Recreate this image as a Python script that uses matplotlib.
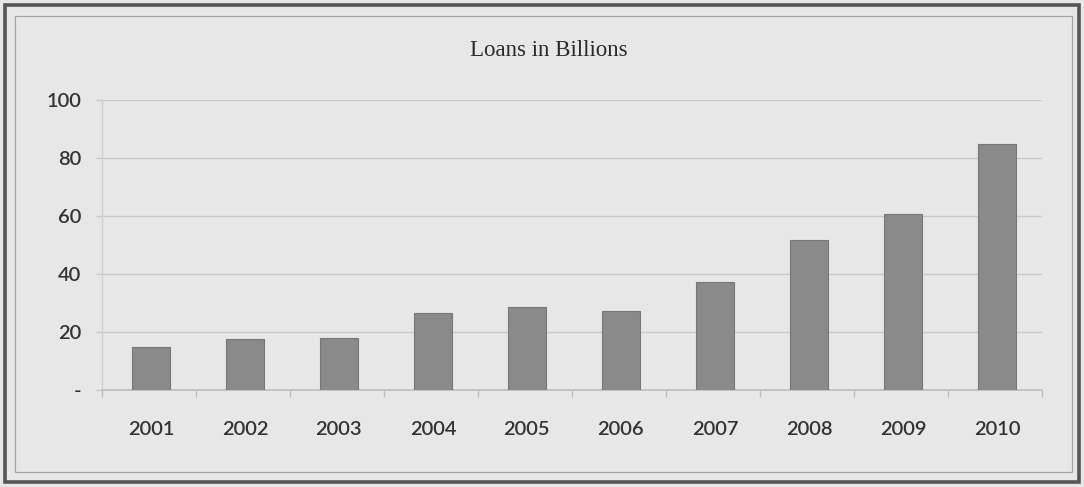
import matplotlib
matplotlib.use("Agg")
import matplotlib.pyplot as plt
from matplotlib.patches import Rectangle
from matplotlib.ticker import FixedLocator, FuncFormatter

# Loans outstanding per year, in billions
years = ["2001", "2002", "2003", "2004", "2005", "2006", "2007", "2008", "2009", "2010"]
loans = [14.7, 17.6, 17.9, 26.6, 28.5, 27.3, 37.1, 51.7, 60.8, 84.9]
y_ticks = [0, 20, 40, 60, 80, 100]

W, H = 1084, 487
DPI = 100
bg = "#e7e7e7"
bar_color = "#8a8a8a"
grid_color = "#c9c9c9"
text_color = "#333333"

fig = plt.figure(figsize=(W / DPI, H / DPI), dpi=DPI, facecolor=bg)

# Frame around the chart area
fig.patches.append(Rectangle((5 / W, 5 / H), (W - 10) / W, (H - 10) / H,
                             transform=fig.transFigure, fill=False,
                             edgecolor="#555555", linewidth=2.6, zorder=0))
fig.patches.append(Rectangle((15 / W, 15 / H), (W - 27) / W, (H - 31) / H,
                             transform=fig.transFigure, fill=False,
                             edgecolor="#a3a3a3", linewidth=0.9, zorder=0))

ax = fig.add_axes([102 / W, (H - 390) / H, (1042 - 102) / W, (390 - 100) / H])
ax.set_facecolor(bg)

x = list(range(len(years)))
ax.bar([i + 0.02 for i in x], loans, width=0.41, color=bar_color,
       edgecolor="#777777", linewidth=0.8, zorder=3)

ax.set_xlim(-0.5, len(years) - 0.5)
ax.set_ylim(0, 100)

# Horizontal gridlines
ax.set_yticks(y_ticks)
ax.yaxis.set_major_formatter(FuncFormatter(lambda v, p: "-" if v == 0 else f"{int(v)}"))
ax.grid(axis="y", color=grid_color, linewidth=1.0, zorder=0)
ax.tick_params(axis="y", length=4, width=1.0, color=grid_color, pad=11,
               labelsize=14.5, labelcolor=text_color)

# Category labels centred, tick marks on category boundaries
ax.set_xticks([i + 0.02 for i in x])
ax.set_xticklabels(years)
ax.tick_params(axis="x", which="major", length=0, pad=22,
               labelsize=14.5, labelcolor=text_color)
ax.xaxis.set_minor_locator(FixedLocator([i - 0.5 for i in range(len(years) + 1)]))
ax.tick_params(axis="x", which="minor", length=5, width=1.0, color="#bdbdbd")

for lab in ax.get_xticklabels() + ax.get_yticklabels():
    lab.set_family(["Lato", "DejaVu Sans"])
    lab.set_fontweight("semibold")

for side in ("top", "right"):
    ax.spines[side].set_visible(False)
ax.spines["left"].set_color("#cfcfcf")
ax.spines["bottom"].set_color("#bdbdbd")
ax.spines["left"].set_linewidth(1.0)
ax.spines["bottom"].set_linewidth(1.2)

fig.text(549 / W, 1 - 50 / H, "Loans in Billions", ha="center", va="center",
         fontsize=16.5, family=["Liberation Serif"], color="#2a2a2a")

fig.savefig("out.png", dpi=DPI, facecolor=bg)
